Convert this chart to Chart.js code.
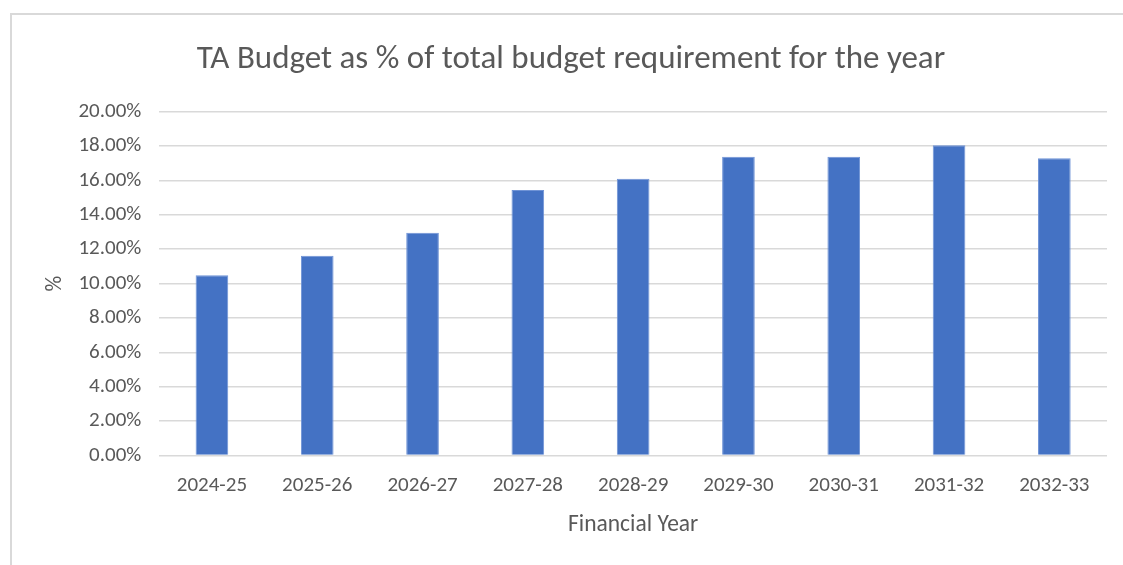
<!DOCTYPE html>
<html lang="en">
<head>
    <meta charset="UTF-8">
    <title>TA Budget</title>
    <script src="https://cdn.jsdelivr.net/npm/chart.js"></script>
    <style>
        html, body { margin: 0; padding: 0; background: #fff; overflow: hidden; }
        #frame {
            position: absolute; left: 10px; top: 13px;
            width: 1200px; height: 600px;
            border: 2px solid #d9d9d9;
        }
        #wrap { position: absolute; left: 0; top: 0; width: 1123px; height: 565px; }
    </style>
</head>
<body>
    <div id="frame"></div>
    <div id="wrap"><canvas id="chart"></canvas></div>

    <script>
        // data
        var years = ['2024-25', '2025-26', '2026-27', '2027-28', '2028-29', '2029-30', '2030-31', '2031-32', '2032-33'];
        var taShare = [10.49, 11.62, 12.96, 15.44, 16.1, 17.37, 17.37, 18.05, 17.29];
        var yTicks = [0, 2, 4, 6, 8, 10, 12, 14, 16, 18, 20];

        var font = 'Carlito, Lato, "Open Sans", sans-serif';
        var grey = '#595959';

        var ctx = document.getElementById('chart').getContext('2d');
        new Chart(ctx, {
            type: 'bar',
            data: {
                labels: years,
                datasets: [{
                    label: 'TA Budget %',
                    data: taShare,
                    backgroundColor: '#4472c4',
                    borderColor: '#6f93d6',
                    borderWidth: 1,
                    barPercentage: 0.31,
                    categoryPercentage: 1
                }]
            },
            options: {
                responsive: true,
                maintainAspectRatio: false,
                animation: false,
                layout: { padding: { top: 40, left: 35, right: 16, bottom: 26 } },
                plugins: {
                    legend: { display: false },
                    tooltip: { enabled: false },
                    title: {
                        display: true,
                        text: 'TA Budget as % of total budget requirement for the year',
                        color: grey,
                        font: { family: font, size: 33, weight: 'normal' },
                        padding: { top: 0, bottom: 32 }
                    }
                },
                scales: {
                    x: {
                        grid: { display: false, drawTicks: false },
                        border: { display: false },
                        ticks: { color: grey, font: { family: font, size: 21 }, padding: 18, maxRotation: 0 },
                        title: {
                            display: true, text: 'Financial Year', color: grey,
                            font: { family: font, size: 23.5 }, padding: { top: -6, bottom: 0 }
                        }
                    },
                    y: {
                        min: 0, max: 20,
                        afterBuildTicks: function(axis) {
                            axis.ticks = yTicks.map(function(v) { return { value: v }; });
                        },
                        grid: { color: '#d9d9d9', lineWidth: 1.5, drawTicks: false },
                        border: { display: false },
                        ticks: {
                            color: grey, font: { family: font, size: 21 }, padding: 18,
                            callback: function(v) { return v.toFixed(2) + '%'; }
                        },
                        title: {
                            display: true, text: '%', color: grey,
                            font: { family: font, size: 22 }, padding: { top: 7, bottom: -8 }
                        }
                    }
                }
            }
        });
    </script>
</body>
</html>
